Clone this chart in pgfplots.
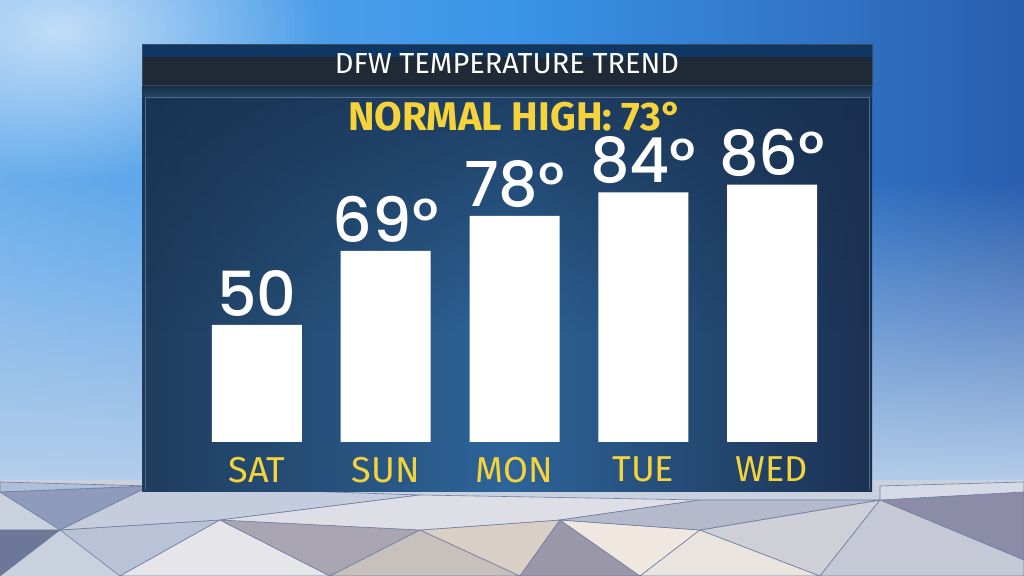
\documentclass[border=0pt]{standalone}
\usepackage{fontspec}
\usepackage{pgfplots}
\pgfplotsset{compat=1.18}
\usepackage{pgfplotstable}
\usetikzlibrary{fadings}
\setmainfont{Fira Sans}
\newfontfamily\numfont{Poppins Medium}

\definecolor{skyL}{HTML}{6AAEEC}
\definecolor{skyM}{HTML}{3A94E8}
\definecolor{skyR}{HTML}{2A5EAE}
\definecolor{skyLow}{HTML}{B6CEEA}
\definecolor{barTop}{HTML}{0F3763}
\definecolor{barDark}{HTML}{1F2A36}
\definecolor{barEdge}{HTML}{3C4C5C}
\definecolor{panelL}{HTML}{1F3C5C}
\definecolor{panelM}{HTML}{2D6499}
\definecolor{panelR}{HTML}{1B3152}
\definecolor{panelTop}{HTML}{172E4C}
\definecolor{glassA}{HTML}{162C44}
\definecolor{glassB}{HTML}{244464}
\definecolor{rim}{HTML}{506C88}
\definecolor{gold}{HTML}{F7D33B}
\definecolor{floorBase}{HTML}{C9D0DE}
\definecolor{floorLine}{HTML}{6E7DA0}

\tikzfading[name=fadeout, inner color=transparent!0, outer color=transparent!100]
\tikzfading[name=upfade, top color=transparent!100, bottom color=transparent!0]
\tikzfading[name=downfade, top color=transparent!0, bottom color=transparent!100]

% values as labelled on the bars
\pgfplotstableread{
x temp label
0 50 50
1 69 69°
2 78 78°
3 84 84°
4 86 86°
}\temps

\begin{document}
\begin{tikzpicture}
\useasboundingbox (0,0) rectangle (512pt,288pt);
\begin{scope}[x=0.5pt,y=-0.5pt,shift={(0pt,288pt)}]
  % sky
  \shade[left color=skyL, right color=skyR, middle color=skyM] (0,0) rectangle (1024,485);
  \fill[white, opacity=0.6, path fading=fadeout] (60,30) ellipse (260 and 150);
  \fill[skyLow, path fading=upfade] (0,180) rectangle (1024,485);
  % floor
  \fill[floorBase] (0,480) rectangle (1024,576);
  \begin{scope}[draw=floorLine, line width=0.3pt]
  \filldraw[fill={rgb,255:red,143;green,155;blue,187}] (0,492) -- (150,486) -- (60,530) -- cycle;
  \filldraw[fill={rgb,255:red,109;green,120;blue,152}] (0,530) -- (60,530) -- (0,576) -- cycle;
  \filldraw[fill={rgb,255:red,185;green,194;blue,214}] (60,530) -- (220,520) -- (120,576) -- cycle;
  \filldraw[fill={rgb,255:red,230;green,230;blue,234}] (120,576) -- (220,520) -- (330,576) -- cycle;
  \filldraw[fill={rgb,255:red,169;green,166;blue,178}] (220,520) -- (420,530) -- (330,576) -- cycle;
  \filldraw[fill={rgb,255:red,200;green,192;blue,188}] (330,576) -- (420,530) -- (520,576) -- cycle;
  \filldraw[fill={rgb,255:red,217;green,207;blue,198}] (420,530) -- (560,520) -- (520,576) -- cycle;
  \filldraw[fill={rgb,255:red,154;green,152;blue,168}] (520,576) -- (560,520) -- (640,576) -- cycle;
  \filldraw[fill={rgb,255:red,240;green,232;blue,224}] (560,520) -- (700,530) -- (640,576) -- cycle;
  \filldraw[fill={rgb,255:red,233;green,228;blue,222}] (640,576) -- (700,530) -- (820,576) -- cycle;
  \filldraw[fill={rgb,255:red,207;green,207;blue,216}] (700,530) -- (880,500) -- (820,576) -- cycle;
  \filldraw[fill={rgb,255:red,140;green,140;blue,168}] (880,500) -- (1024,492) -- (1024,560) -- cycle;
  \filldraw[fill={rgb,255:red,198;green,200;blue,214}] (820,576) -- (880,500) -- (1024,560) -- (1024,576) -- cycle;
  \filldraw[fill={rgb,255:red,176;green,190;blue,218}] (0,482) -- (150,486) -- (0,492) -- cycle;
  \filldraw[fill={rgb,255:red,196;green,204;blue,222}] (150,486) -- (420,495) -- (220,520) -- (60,530) -- cycle;
  \filldraw[fill={rgb,255:red,222;green,222;blue,230}] (420,495) -- (700,500) -- (560,520) -- (420,530) -- (220,520) -- cycle;
  \filldraw[fill={rgb,255:red,180;green,186;blue,204}] (700,500) -- (880,500) -- (700,530) -- (560,520) -- cycle;
  \filldraw[fill={rgb,255:red,214;green,218;blue,230}] (880,486) -- (1024,482) -- (1024,492) -- (880,500) -- cycle;
  \end{scope}
  % panel
  \shade[left color=panelL, right color=panelR, middle color=panelM] (142,85) rectangle (872,492);
  \fill[panelTop, opacity=0.7, path fading=downfade] (142,85) rectangle (872,330);
  \shade[top color=glassA, bottom color=glassB] (142,85) rectangle (872,97);
  \draw[draw=rim, line width=0.6pt] (145,97.5) -- (869,97.5);
  \draw[draw=rim, line width=0.4pt] (145,97.5) -- (145,490) (869,97.5) -- (869,490);
  \fill[barDark] (142,44) rectangle (872,85);
  \fill[barTop] (142,44) rectangle (872,57);
  \draw[draw=barEdge, line width=0.4pt] (142,44) rectangle (872,85);
  \node[text=white, inner sep=0pt, font=\fontsize{14.5}{14.5}\selectfont] at (507,64) {DFW TEMPERATURE TREND};
  \node[text=gold, inner sep=0pt, font=\bfseries\fontsize{20}{20}\selectfont] at (515,117) {NORMAL HIGH: 73°};
\end{scope}

\begin{axis}[
  at={(96.3pt,67pt)}, anchor=south west,
  scale only axis, width=321.9pt, height=156pt,
  xmin=-0.5, xmax=4.5, ymin=20, ymax=100,
  axis line style={draw=none}, tick style={draw=none},
  ytick=\empty,
  xtick={0,...,4}, xticklabels={SAT,SUN,MON,TUE,WED},
  xticklabel style={text=gold, inner sep=0pt, yshift=-3pt,
    font=\fontsize{18}{18}\selectfont},
  ybar, bar width=45pt, bar shift=0pt,
  nodes near coords, point meta=explicit symbolic,
  nodes near coords style={font=\numfont\fontsize{31}{31}\selectfont,
    text=white, inner sep=0pt, anchor=south, yshift=4pt},
]
\addplot[fill=white, draw=none] table[x=x, y=temp, meta=label] {\temps};
\end{axis}
\end{tikzpicture}
\end{document}
